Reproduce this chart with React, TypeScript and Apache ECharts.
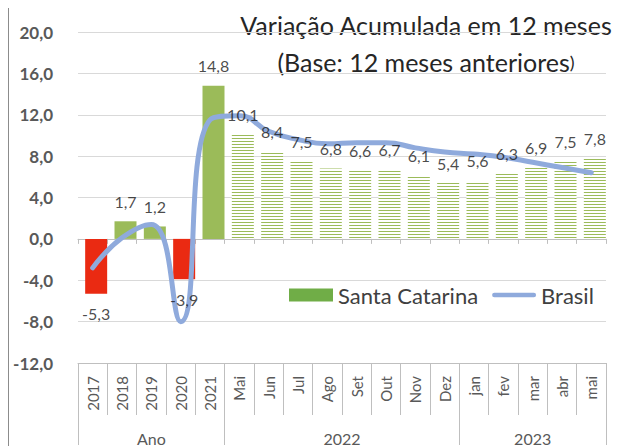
import React, { useEffect, useRef } from 'react';
import * as echarts from 'echarts';

const categories = ['2017', '2018', '2019', '2020', '2021', 'Mai', 'Jun', 'Jul', 'Ago', 'Set', 'Out', 'Nov', 'Dez', 'jan', 'fev', 'mar', 'abr', 'mai'];
const santaCatarina = [-5.3, 1.7, 1.2, -3.9, 14.8, 10.1, 8.4, 7.5, 6.8, 6.6, 6.7, 6.1, 5.4, 5.6, 6.3, 6.9, 7.5, 7.8];
const brasil = [-2.8, 0.1, 1.4, -8.0, 11.5, 11.9, 10.4, 9.6, 9.2, 9.3, 9.3, 8.8, 8.4, 8.2, 7.9, 7.4, 6.9, 6.4];
const groupLabels = ['Ano', '2022', '2023'];
const groupSizes = [5, 8, 5];
const yMin = -12;
const yMax = 20;
const yInterval = 4;
const annualCount = 5;

const FONT = 'Lato';
const GREEN = '#9BBB59';
const RED = '#EA2A12';
const BLUE = '#8FAADC';
const AXIS_GRAY = '#BFBFBF';

export default function App() {
  const ref = useRef<HTMLDivElement>(null);

  useEffect(() => {
    if (!ref.current) return;
    const chart = echarts.init(ref.current, undefined, { renderer: 'svg' });

    const boundaries: number[] = [0];
    groupSizes.forEach((s) => boundaries.push(boundaries[boundaries.length - 1] + s));
    const centers = groupSizes.map((s, i) => boundaries[i] + s / 2);

    const barData = santaCatarina.map((v, i) => {
      const neg = v < 0;
      const item: any = { value: v };
      if (i < annualCount) {
        item.itemStyle = { color: neg ? RED : GREEN };
      } else {
        item.itemStyle = {
          color: '#FFFFFF',
          decal: {
            symbol: 'rect',
            symbolSize: 1,
            dashArrayX: [1, 0],
            dashArrayY: [1, 1.3],
            rotation: 0,
            color: GREEN,
          },
        };
      }
      return item;
    });

    const labelData = santaCatarina.map((v) => ({
      value: v,
      label: { position: v < 0 ? 'bottom' : 'top' },
    }));

    const fmt = (v: number) => v.toFixed(1).replace('.', ',');

    chart.setOption({
      animation: false,
      grid: { left: 78, right: 17, top: 32, bottom: 82, containLabel: false },
      xAxis: [
        {
          type: 'category',
          data: categories,
          position: 'bottom',
          axisLine: { onZero: false, lineStyle: { color: AXIS_GRAY, width: 1 } },
          axisTick: { show: true, interval: 0, length: 52, lineStyle: { color: AXIS_GRAY } },
          axisLabel: {
            interval: 0,
            rotate: 90,
            margin: 13,
            fontFamily: FONT,
            fontSize: 15,
            color: '#595959',
          },
          splitLine: { show: false },
        },
        {
          type: 'category',
          data: categories,
          position: 'bottom',
          axisLine: { onZero: true, lineStyle: { color: AXIS_GRAY, width: 1 } },
          axisTick: { show: true, interval: 0, length: 5, lineStyle: { color: AXIS_GRAY } },
          axisLabel: { show: false },
          splitLine: { show: false },
        },
        {
          type: 'value',
          min: 0,
          max: boundaries[boundaries.length - 1],
          position: 'bottom',
          axisLine: { show: false, onZero: false },
          splitLine: { show: false },
          axisTick: {
            show: true,
            customValues: boundaries,
            length: 82,
            lineStyle: { color: AXIS_GRAY },
          },
          axisLabel: {
            show: true,
            customValues: centers,
            margin: 67,
            fontFamily: FONT,
            fontSize: 16,
            color: '#595959',
            formatter: (v: number) => {
              const idx = centers.findIndex((c) => Math.abs(c - v) < 1e-6);
              return idx >= 0 ? groupLabels[idx] : '';
            },
          },
        },
      ],
      yAxis: {
        type: 'value',
        min: yMin,
        max: yMax,
        interval: yInterval,
        axisLine: { show: false, onZero: false },
        axisTick: { show: false },
        splitLine: { lineStyle: { color: '#D9D9D9', width: 1 } },
        axisLabel: {
          margin: 25,
          fontFamily: FONT,
          fontSize: 17,
          fontWeight: 'bold',
          color: '#595959',
          formatter: fmt,
        },
      },
      legend: {
        left: 289,
        top: 284,
        padding: 0,
        itemGap: 14,
        itemWidth: 44,
        itemHeight: 13,
        textStyle: { fontFamily: FONT, fontSize: 22, color: '#404040' },
        data: [
          { name: 'Santa Catarina', icon: 'rect', itemStyle: { color: '#70AD47' } },
          {
            name: 'Brasil',
            icon: 'path://M0,0 L0,0 M48,13 L48,13 M2.5,4 L45.5,4 A2.5,2.5 0 0 1 45.5,9 L2.5,9 A2.5,2.5 0 0 1 2.5,4 Z',
            itemStyle: { color: BLUE },
          },
        ],
      },
      graphic: [
        {
          type: 'line',
          shape: { x1: 8.5, y1: 8, x2: 8.5, y2: 446 },
          style: { stroke: '#8C8C8C', lineWidth: 1 },
          silent: true,
        },
        {
          type: 'text',
          x: 426,
          y: 6,
          style: {
            text: 'Variação Acumulada em 12 meses\n(Base: 12 meses anteriores{p|)}',
            align: 'center',
            verticalAlign: 'top',
            fontFamily: FONT,
            fontSize: 25,
            lineHeight: 37,
            fill: '#262626',
            rich: { p: { fontFamily: FONT, fontSize: 18, lineHeight: 37, fill: '#262626' } },
          },
          silent: true,
        },
      ],
      series: [
        {
          name: '_pad',
          type: 'bar',
          xAxisIndex: 0,
          yAxisIndex: 0,
          data: [],
          barWidth: 7,
          barGap: '0%',
          silent: true,
        },
        {
          name: 'Santa Catarina',
          type: 'bar',
          xAxisIndex: 0,
          yAxisIndex: 0,
          data: barData,
          barWidth: 22,
          barGap: '0%',
          itemStyle: { color: '#70AD47' },
          z: 2,
        },
        {
          name: 'Brasil',
          type: 'line',
          xAxisIndex: 0,
          yAxisIndex: 0,
          data: brasil,
          smooth: 0.5,
          symbol: 'none',
          showSymbol: false,
          lineStyle: { color: BLUE, width: 5, cap: 'round', join: 'round' },
          itemStyle: { color: BLUE },
          z: 3,
        },
        {
          name: '_labels',
          type: 'scatter',
          xAxisIndex: 0,
          yAxisIndex: 0,
          data: labelData,
          symbolSize: 0,
          itemStyle: { color: 'transparent' },
          silent: true,
          z: 5,
          label: {
            show: true,
            distance: 12,
            offset: [3.5, 0],
            fontFamily: FONT,
            fontSize: 16,
            color: '#1A1A1A',
            formatter: (p: any) => fmt(p.value),
          },
        },
      ],
    });

    return () => chart.dispose();
  }, []);

  return (
    <div
      ref={ref}
      style={{ position: 'fixed', left: 0, top: 0, width: 623, height: 446, background: '#FFFFFF' }}
    />
  );
}
